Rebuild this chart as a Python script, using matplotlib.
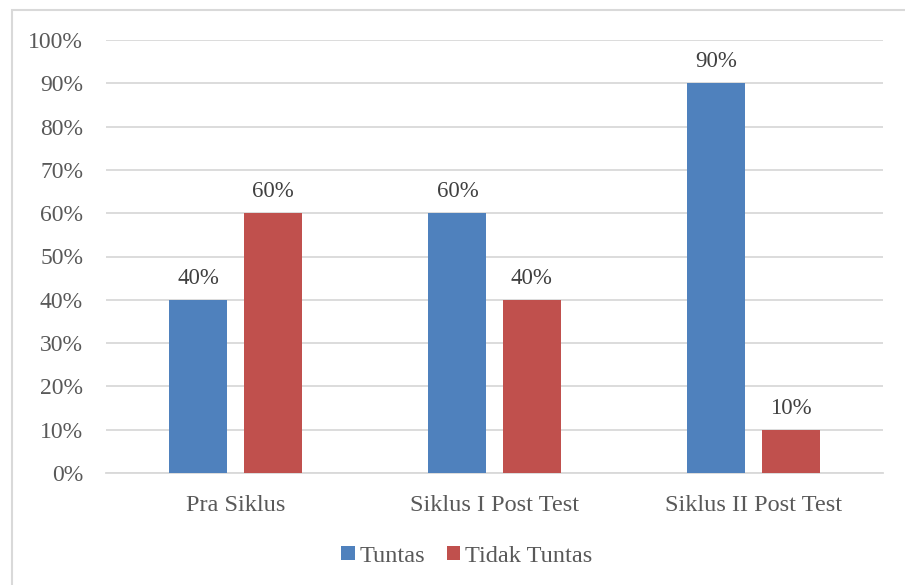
import matplotlib.pyplot as plt
from matplotlib.patches import Rectangle
import numpy as np

plt.rcParams['font.family'] = ['Liberation Serif', 'DejaVu Serif']

# data
kategori = ['Pra Siklus', 'Siklus I Post Test', 'Siklus II Post Test']
tuntas = [40, 60, 90]
tidak_tuntas = [60, 40, 10]
ytick_labels = ['0%', '10%', '20%', '30%', '40%', '50%', '60%', '70%', '80%', '90%', '100%']

BIRU = '#4F81BD'
MERAH = '#C0504D'
ABU = '#595959'
GRID = '#D9D9D9'

fig = plt.figure(figsize=(9.05, 5.85), dpi=100)
ax = fig.add_axes([106/905, 1 - 473/585, 777/905, 433/585])

# bingkai luar
fig.patches.append(Rectangle((12/905, -0.1), 1.0, 1.1 - 10/585, transform=fig.transFigure,
                             fill=False, edgecolor=GRID, linewidth=1.5, zorder=0))

x = np.arange(len(kategori))
w = 0.224
off = 0.143
b1 = ax.bar(x - off, tuntas, w, color=BIRU, label='Tuntas', zorder=3)
b2 = ax.bar(x + off, tidak_tuntas, w, color=MERAH, label='Tidak Tuntas', zorder=3)

for bars, vals in [(b1, tuntas), (b2, tidak_tuntas)]:
    for b, v in zip(bars, vals):
        ax.annotate(f'{v}%', (b.get_x() + b.get_width() / 2, v), xytext=(0, 8),
                    textcoords='offset points', ha='center', va='bottom',
                    fontsize=16.5, color='#404040')

ax.set_xlim(-0.5, 2.5)
ax.set_ylim(0, 100)
ax.set_yticks(np.arange(0, 101, 10))
ax.set_yticklabels(ytick_labels)
ax.set_xticks(x)
ax.set_xticklabels(kategori)
ax.tick_params(axis='y', length=0, pad=16.5, labelsize=17, labelcolor=ABU)
ax.tick_params(axis='x', length=0, pad=16, labelsize=17.5, labelcolor=ABU)
ax.grid(axis='y', color=GRID, linewidth=1.3, zorder=0)
for s in ['top', 'right', 'left']:
    ax.spines[s].set_visible(False)
ax.spines['bottom'].set_color(GRID)
ax.spines['bottom'].set_linewidth(1.3)

fig.legend(loc='center', bbox_to_anchor=(467/905, 1 - 556/585), ncol=2, frameon=False,
           fontsize=17.5, labelcolor=ABU, handlelength=0.55, handleheight=0.55,
           handletextpad=0.2, columnspacing=0.9)

fig.savefig('out.png', dpi=100)
